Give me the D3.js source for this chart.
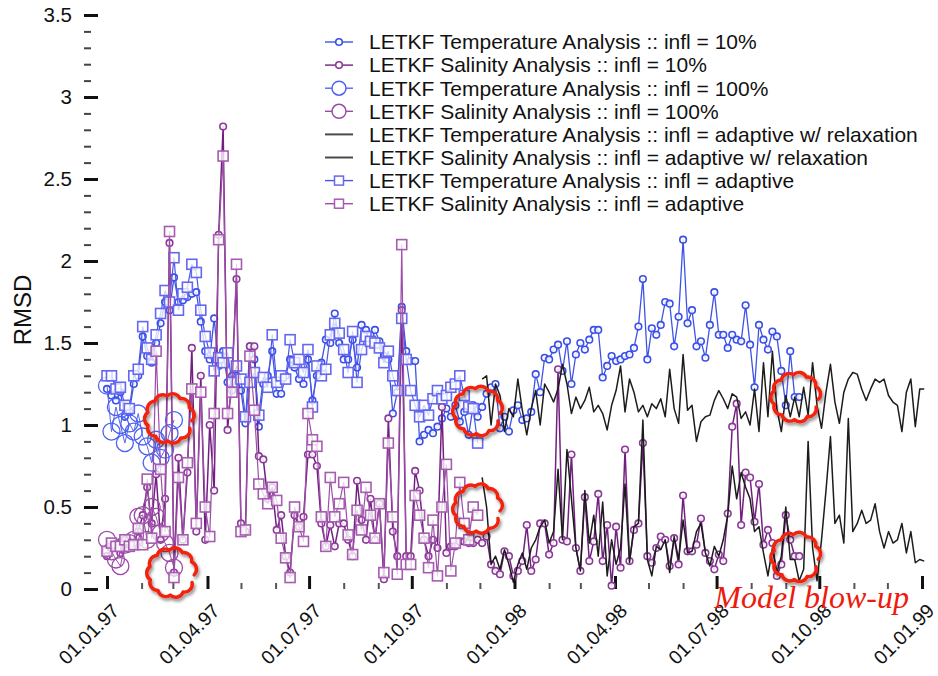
<!DOCTYPE html>
<html>
<head>
<meta charset="utf-8">
<script src="https://cdn.jsdelivr.net/npm/d3@7"></script>
<style>
  html, body { margin: 0; padding: 0; background: #fff; }
  svg { display: block; font-family: "Liberation Sans", Arial, Helvetica, sans-serif; }
</style>
</head>
<body>
<svg id="chart" width="938" height="676"></svg>
<script>
// ---- data: RMSD of LETKF analyses, one value every 4 days from 01.01.97 ----
const startDate = new Date(1997, 0, 1);
const stepDays = 4;

// infl = 10% (runs until the model blow-up in Sep 98)
const temp10 = [
  1.22,1.18,1.15,1.20,1.05,1.08,1.25,1.30,1.54,1.42,
  1.38,1.50,1.62,1.75,1.70,1.90,1.75,1.76,1.78,1.80,
  1.81,1.63,1.45,1.40,1.65,1.36,1.45,1.26,1.21,1.30,
  1.21,1.01,1.48,1.40,0.99,1.25,1.30,1.45,1.19,1.19,
  1.30,1.40,1.35,1.28,1.25,1.40,1.15,1.30,1.38,1.52,
  1.50,1.68,1.50,1.40,1.40,1.52,1.35,1.61,1.58,1.55,
  1.58,1.51,1.42,1.40,1.07,1.20,1.72,1.45,1.39,1.39,
  0.90,0.94,0.97,0.95,0.99,1.04,1.10,1.05,1.12,1.02,
  1.08,0.94,1.12,1.05,
  1.11,1.19,1.23,1.25,0.98,1.05,0.96,1.09,1.12,1.03,
  1.04,1.08,1.31,1.20,1.41,1.40,1.46,1.49,1.33,1.51,
  1.25,1.43,1.50,1.46,1.52,1.58,1.58,1.29,1.36,1.42,
  1.39,1.40,1.42,1.43,
  1.47,1.60,1.89,1.40,1.59,1.55,1.61,1.75,1.74,1.48,
  1.66,2.13,1.62,1.70,1.48,1.51,1.41,1.61,1.81,1.55,
  1.55,1.47,1.55,1.52,1.51,1.73,1.49,1.23,1.61,1.52,
  1.46,1.57,1.54,1.33,1.12,1.45,1.17,1.17
];
const sal10 = [
  0.20,0.25,0.28,0.22,0.30,0.27,0.28,0.35,0.45,0.62,
  0.40,0.70,0.30,0.55,2.11,0.10,0.80,0.30,0.71,1.47,
  0.35,1.30,0.30,1.00,0.60,2.16,2.82,0.97,1.30,1.89,
  0.40,0.35,1.48,1.48,0.81,0.79,0.55,0.62,0.36,0.45,
  0.20,0.10,0.45,0.38,0.44,0.82,0.82,0.75,0.40,0.26,
  0.39,0.26,0.40,0.40,0.30,0.20,0.66,0.42,0.30,0.55,
  0.30,0.52,0.06,1.04,0.35,0.20,1.70,0.20,0.20,0.72,
  0.60,0.30,0.20,0.30,0.25,1.11,0.22,0.26,0.26,0.29,
  0.29,0.28,0.28,0.30,
  0.28,0.32,0.15,0.11,0.09,0.23,0.20,0.08,0.11,0.17,
  0.39,0.11,0.18,0.40,0.40,0.21,0.28,1.34,0.30,0.29,
  0.82,0.25,0.11,0.56,0.17,0.29,0.58,0.17,0.39,0.02,
  0.38,0.13,0.85,0.17,0.36,0.40,0.89,0.20,0.16,0.25,
  0.32,0.30,0.14,0.31,0.15,0.57,0.23,0.23,0.27,0.43,
  0.22,0.17,0.12,0.21,0.17,0.46,0.99,1.13,0.39,0.71,
  0.68,0.41,0.64,0.27,0.36,0.28,0.08,0.15,0.45,0.30,
  0.20,0.20
];

// infl = 100% (blows up early in Mar 97)
const temp100 = [1.24,0.96,1.11,1.00,0.89,1.01,0.96,1.07,0.93,0.87,0.77,0.91,0.80,0.85,0.95,1.03];
const sal100  = [0.30,0.23,0.18,0.14,0.27,0.28,0.30,0.44,0.45,0.30,0.50,0.44,0.34,0.28,0.22,0.13];

// infl = adaptive w/ relaxation (drawn from Dec 97 to the end of 98)
const relaxFirst = 84;
const tempRelax = [
  1.28,1.30,1.00,1.25,1.18,0.96,1.10,1.05,1.28,1.09,
  0.94,1.10,1.21,1.00,1.25,1.20,1.14,1.22,1.37,1.25,
  1.07,1.17,1.10,1.15,1.23,1.08,1.12,1.07,0.97,1.12,
  1.21,1.36,1.08,1.28,1.20,1.08,1.12,1.05,1.13,1.10,
  1.16,1.05,1.34,1.10,1.01,1.43,1.09,1.12,0.90,1.02,
  1.05,1.06,1.15,1.21,1.16,1.10,1.19,1.17,1.04,1.08,
  1.00,1.22,0.96,1.38,1.05,1.45,1.10,0.96,1.18,1.05,
  1.17,1.05,1.23,1.06,1.38,1.12,0.98,1.20,1.37,1.14,
  1.01,1.20,1.28,1.32,1.31,1.22,1.15,1.22,1.28,1.26,
  1.28,1.18,1.14,1.12,0.96,1.20,1.28,0.99,1.22,1.22
];
const salRelax = [
  0.68,0.50,0.15,0.20,0.12,0.24,0.15,0.04,0.15,0.22,
  0.12,0.25,0.30,0.38,0.42,0.28,0.35,0.73,0.30,0.85,
  0.55,0.25,0.11,0.60,0.28,0.45,0.20,0.53,0.08,0.30,
  0.15,0.25,0.64,0.16,0.38,0.40,1.03,0.18,0.08,0.26,
  0.24,0.30,0.10,0.32,0.18,0.42,0.22,0.23,0.35,0.40,
  0.22,0.14,0.26,0.20,0.30,0.45,0.75,0.55,0.71,0.62,
  0.55,0.35,0.38,0.22,0.08,0.25,0.10,0.20,0.50,0.18,
  0.18,0.05,0.12,0.90,0.25,0.05,0.30,0.60,0.93,0.40,
  0.45,0.28,1.04,0.35,0.40,0.48,0.40,0.42,0.52,0.35,
  0.25,0.35,0.28,0.30,0.40,0.22,0.35,0.16,0.18,0.17
];

// infl = adaptive (Jan 97 to Nov 97)
const tempAdapt = [
  1.30,1.30,1.22,1.23,1.12,1.10,1.30,1.34,1.60,1.47,
  1.40,1.55,1.68,1.82,1.75,2.02,1.70,1.80,1.84,1.98,
  1.93,1.70,1.54,1.44,1.33,1.41,1.38,1.44,1.26,1.36,
  1.28,1.05,1.26,1.32,1.06,1.29,1.23,1.55,1.26,1.30,
  1.28,1.52,1.38,1.40,1.32,1.46,1.11,1.36,1.30,1.34,
  1.55,1.62,1.56,1.46,1.32,1.57,1.26,1.46,1.54,1.51,
  1.50,1.47,1.38,1.45,1.30,1.21,1.65,1.40,1.21,1.12,
  1.05,1.12,1.06,1.16,1.21,1.16,1.18,1.23,1.25,1.30,
  1.18,1.11,1.10,0.89
];
const salAdapt = [
  0.23,0.28,0.26,0.26,0.30,0.26,0.27,0.37,0.27,0.67,
  0.31,1.45,0.73,0.35,2.18,0.07,0.68,0.30,0.77,1.22,
  0.40,1.20,0.50,0.32,1.07,2.13,2.64,1.07,1.20,1.98,
  0.35,0.36,1.42,1.09,0.64,0.58,0.52,0.62,0.54,0.31,
  0.19,0.07,0.50,0.38,0.29,1.07,0.91,0.87,0.44,0.26,
  0.68,0.44,0.52,0.65,0.33,0.21,0.48,0.36,0.62,0.45,
  0.31,0.52,0.10,0.89,0.44,0.09,2.10,0.15,0.15,0.57,
  0.45,0.31,0.13,0.42,0.08,0.50,0.76,0.11,0.28,0.65,
  0.40,0.30,0.50,0.45
];

const legendLabels = [
  "LETKF Temperature Analysis :: infl = 10%",
  "LETKF Salinity Analysis :: infl = 10%",
  "LETKF Temperature Analysis :: infl = 100%",
  "LETKF Salinity Analysis :: infl = 100%",
  "LETKF Temperature Analysis :: infl = adaptive w/ relaxation",
  "LETKF Salinity Analysis :: infl = adaptive w/ relaxation",
  "LETKF Temperature Analysis :: infl = adaptive",
  "LETKF Salinity Analysis :: infl = adaptive"
];

const yMajorTicks = [0, 0.5, 1, 1.5, 2, 2.5, 3, 3.5];
const yTickLabels = ["0", "0.5", "1", "1.5", "2", "2.5", "3", "3.5"];
const xDomain = [new Date(1997, 0, 1), new Date(1999, 0, 1)];

// failure markers: [date, RMSD]
const blowUps = [
  [new Date(1997, 1, 26), 1.04], [new Date(1997, 1, 28), 0.10],
  [new Date(1997, 10, 29), 1.085], [new Date(1997, 10, 29), 0.49],
  [new Date(1998, 8, 10), 1.17], [new Date(1998, 8, 10), 0.195]
];
const blowUpNote = "Model blow-up";

// ---- scales ----
const svg = d3.select("#chart");
const x = d3.scaleTime().domain(xDomain).range([107, 922]);
const y = d3.scaleLinear().domain([0, 3.5]).range([589, 15]);

const series = [
  { values: temp10,   first: 0, line: "#3f52e6", stroke: "#3a4fe8", marker: "small", lw: 1.3 },
  { values: sal10,    first: 0, line: "#722080", stroke: "#8c3a98", marker: "small", lw: 1.5 },
  { values: temp100,  first: 0, line: "#5567f0", stroke: "#4d62f2", marker: "big",   lw: 1.0 },
  { values: sal100,   first: 0, line: "#9a4aa6", stroke: "#9c4aa8", marker: "big",   lw: 1.0 },
  { values: tempRelax, first: relaxFirst, line: "#1c1c1c", stroke: null, marker: null, lw: 1.5 },
  { values: salRelax,  first: relaxFirst, line: "#1c1c1c", stroke: null, marker: null, lw: 1.5 },
  { values: tempAdapt, first: 0, line: "#4a56e8", stroke: "#6468f0", marker: "square", lw: 1.2 },
  { values: salAdapt,  first: 0, line: "#9d4fa8", stroke: "#a65cb0", marker: "square", lw: 1.2 }
];

function points(s) {
  return s.values.map((v, k) => ({ date: d3.timeDay.offset(startDate, (s.first + k) * stepDays), value: v }));
}

const lineGen = d3.line().x(d => x(d.date)).y(d => y(d.value));

// ---- y axis: major and minor ticks, no spine ----
const yMajor = d3.axisLeft(y).tickValues(yMajorTicks).tickSize(14).tickPadding(12)
  .tickFormat((d, i) => yTickLabels[i]);
const gy = svg.append("g").attr("transform", "translate(98,0)").call(yMajor);
gy.select(".domain").remove();
gy.selectAll(".tick line").attr("stroke", "#111").attr("stroke-width", 3);
gy.selectAll(".tick text").attr("font-size", 20.5).attr("fill", "#111")
  .attr("font-family", "Liberation Sans, Arial, sans-serif");

const yMinorVals = d3.range(0, 36).map(k => k / 10).filter(v => Math.round(v * 10) % 5 !== 0);
const gyMinor = svg.append("g").attr("transform", "translate(91,0)")
  .call(d3.axisLeft(y).tickValues(yMinorVals).tickSize(7).tickFormat(""));
gyMinor.select(".domain").remove();
gyMinor.selectAll(".tick line").attr("stroke", "#444").attr("stroke-width", 2);

svg.append("text")
  .attr("transform", "translate(31,310) rotate(-90)")
  .attr("text-anchor", "middle")
  .attr("font-size", 24).attr("fill", "#111")
  .text("RMSD");

// ---- x axis: quarterly major ticks, monthly minor ticks pointing up ----
const xMajorVals = d3.timeMonth.every(3).range(xDomain[0], d3.timeDay.offset(xDomain[1], 1));
const xMinorVals = d3.timeMonth.range(xDomain[0], xDomain[1]).filter(d => d.getMonth() % 3 !== 0);

const gxMinor = svg.append("g").attr("transform", "translate(0,589)")
  .call(d3.axisTop(x).tickValues(xMinorVals).tickSize(6).tickFormat(""));
gxMinor.select(".domain").remove();
gxMinor.selectAll(".tick line").attr("stroke", "#555").attr("stroke-width", 2);

const gxMajor = svg.append("g").attr("transform", "translate(0,589)")
  .call(d3.axisTop(x).tickValues(xMajorVals).tickSize(13).tickFormat(""));
gxMajor.select(".domain").remove();
gxMajor.selectAll(".tick line").attr("stroke", "#111").attr("stroke-width", 3);

const fmt = d3.timeFormat("%d.%m.%y");
const gxLab = svg.append("g").attr("transform", "translate(0,589)")
  .call(d3.axisBottom(x).tickValues(xMajorVals).tickSize(0).tickFormat(fmt));
gxLab.select(".domain").remove();
gxLab.selectAll(".tick text")
  .attr("font-size", 19.5).attr("fill", "#111")
  .attr("font-family", "Liberation Sans, Arial, sans-serif")
  .attr("text-anchor", "end")
  .attr("dy", null).attr("y", 0)
  .attr("transform", "translate(13,23) rotate(-45)");

// ---- series ----
const plot = svg.append("g");
series.forEach(s => {
  const pts = points(s);
  const g = plot.append("g");
  g.append("path").datum(pts)
    .attr("fill", "none")
    .attr("stroke", s.line)
    .attr("stroke-width", s.lw)
    .attr("stroke-linejoin", "round")
    .attr("d", lineGen);
  if (s.marker === "small") {
    g.selectAll("circle").data(pts).join("circle")
      .attr("cx", d => x(d.date)).attr("cy", d => y(d.value)).attr("r", 3.3)
      .attr("fill", "#fff").attr("fill-opacity", 0.85)
      .attr("stroke", s.stroke).attr("stroke-width", 1.6);
  } else if (s.marker === "big") {
    g.selectAll("circle").data(pts).join("circle")
      .attr("cx", d => x(d.date)).attr("cy", d => y(d.value)).attr("r", 8.5)
      .attr("fill", "none")
      .attr("stroke", s.stroke).attr("stroke-width", 1.3);
  } else if (s.marker === "square") {
    g.selectAll("rect").data(pts).join("rect")
      .attr("x", d => x(d.date) - 5).attr("y", d => y(d.value) - 5)
      .attr("width", 10).attr("height", 10)
      .attr("fill", "#fff").attr("fill-opacity", 0.75)
      .attr("stroke", s.stroke).attr("stroke-width", 1.6);
  }
});

// ---- legend ----
const legend = svg.append("g").attr("transform", "translate(325,42)");
const legendRow = 23.1;
series.forEach((s, i) => {
  const row = legend.append("g").attr("transform", `translate(0,${i * legendRow})`);
  const col = s.marker ? s.stroke : "#4a4a4a";
  row.append("line").attr("x1", 0).attr("x2", 28).attr("y1", 0).attr("y2", 0)
    .attr("stroke", s.marker ? s.line : "#4a4a4a").attr("stroke-width", s.marker ? 1.4 : 2);
  if (s.marker === "small") {
    row.append("circle").attr("cx", 14).attr("cy", 0).attr("r", 3.3)
      .attr("fill", "#fff").attr("stroke", col).attr("stroke-width", 1.6);
  } else if (s.marker === "big") {
    row.append("circle").attr("cx", 14).attr("cy", 0).attr("r", 7)
      .attr("fill", "#fff").attr("stroke", col).attr("stroke-width", 1.5);
  } else if (s.marker === "square") {
    row.append("rect").attr("x", 9.5).attr("y", -4.5).attr("width", 9).attr("height", 9)
      .attr("fill", "#fff").attr("stroke", col).attr("stroke-width", 1.5);
  }
  row.append("text").attr("x", 44).attr("y", 0).attr("dy", "0.35em")
    .attr("font-size", 21).attr("fill", "#111")
    .text(legendLabels[i]);
});

// ---- blow-up annotations: red revision clouds ----
const defs = svg.append("defs");
const shadow = defs.append("filter").attr("id", "cloudShadow")
  .attr("x", "-30%").attr("y", "-30%").attr("width", "160%").attr("height", "160%");
shadow.append("feDropShadow").attr("dx", 1.5).attr("dy", 2.5).attr("stdDeviation", 1.6)
  .attr("flood-color", "#000").attr("flood-opacity", 0.45);

// scalloped ring with outward bumps and a small opening at the lower right
function cloudPath(cx, cy, r, bumps) {
  const start = 0.45;
  const span = 2 * Math.PI - 0.35;
  const chord = 2 * r * Math.sin(span / bumps / 2);
  let p = "";
  for (let k = 0; k <= bumps; k++) {
    const a = start + span * k / bumps;
    const px = cx + r * Math.cos(a), py = cy + r * Math.sin(a);
    if (k === 0) { p += `M${px},${py}`; continue; }
    p += `A${chord * 0.6},${chord * 0.6} 0 0 1 ${px},${py}`;
  }
  return p;
}

svg.append("g").selectAll("path").data(blowUps).join("path")
  .attr("d", d => cloudPath(x(d[0]), y(d[1]), 22.5, 10))
  .attr("fill", "none").attr("stroke", "#f2200c").attr("stroke-width", 3.4)
  .attr("stroke-linecap", "round").attr("stroke-linejoin", "round")
  .attr("filter", "url(#cloudShadow)");

svg.append("text")
  .attr("x", x(new Date(1998, 5, 29))).attr("y", 608)
  .attr("font-family", "Liberation Serif, Times New Roman, serif")
  .attr("font-style", "italic").attr("font-size", 32)
  .attr("fill", "#ee1a0e")
  .text(blowUpNote);
</script>
</body>
</html>
